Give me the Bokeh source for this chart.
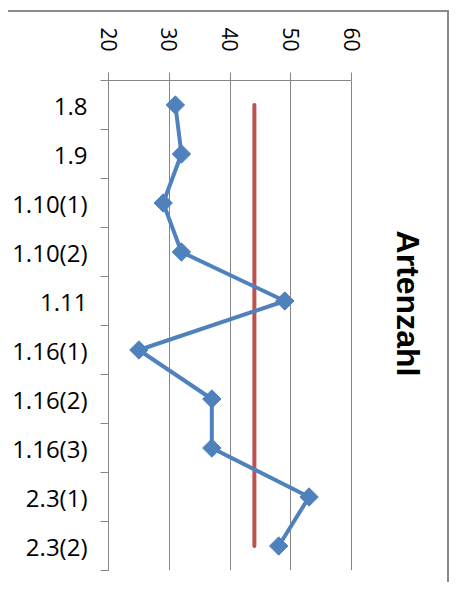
import math
from bokeh.plotting import figure
from bokeh.models import Range1d, LinearAxis, FixedTicker, Grid, Label, ColumnDataSource
from bokeh.embed import file_html
from bokeh.resources import INLINE

categories = ["1.8", "1.9", "1.10(1)", "1.10(2)", "1.11", "1.16(1)",
              "1.16(2)", "1.16(3)", "2.3(1)", "2.3(2)"]
artenzahl = [31, 32, 29, 32, 49, 25, 37, 37, 53, 48]
reference = [44, 44, 44, 44, 44, 44, 44, 44, 44, 44]
value_ticks = [20, 30, 40, 50, 60]
title_text = "Artenzahl"

GRAY = "#868686"
BLUE = "#4F81BD"
RED = "#C0504D"
FONT = "Open Sans"

n = len(categories)
# category slot centres (category i occupies [i, i+1] on the flipped axis)
slot = [i + 0.5 for i in range(n)]
src = ColumnDataSource(data=dict(cat=categories, pos=slot, val=artenzahl, ref=reference))

# the frame extends to the right edge so the title can sit inside it;
# the value axis itself is bounded to 20..60
p = figure(width=441, height=572,
           x_range=Range1d(20, 76.1),
           y_range=Range1d(n, 0),
           x_axis_location=None, y_axis_location=None,
           output_backend="svg", toolbar_location=None,
           min_border_left=100, min_border_top=68,
           min_border_right=0, min_border_bottom=14)
p.center = [r for r in p.center if not isinstance(r, Grid)]
p.outline_line_color = None
p.background_fill_color = "white"
p.border_fill_color = "white"
p.styles = {"border-top": "2px solid #8a8a8a", "border-right": "2px solid #8a8a8a",
            "margin-top": "10px", "margin-left": "8px"}

# value axis on top
xaxis = LinearAxis(ticker=FixedTicker(ticks=value_ticks, minor_ticks=[]),
                   bounds=(value_ticks[0], value_ticks[-1]))
xaxis.major_label_orientation = -math.pi / 2
xaxis.axis_line_color = GRAY
xaxis.major_tick_line_color = GRAY
xaxis.major_tick_out = 8
xaxis.major_tick_in = 0
xaxis.minor_tick_line_color = None
xaxis.major_label_standoff = 21
xaxis.major_label_text_font = FONT
xaxis.major_label_text_font_size = "21px"
xaxis.major_label_text_color = "black"
p.add_layout(xaxis, "above")

# category axis on left (ticks between categories)
yaxis = LinearAxis(ticker=FixedTicker(ticks=slot, minor_ticks=list(range(n + 1))))
yaxis.major_label_overrides = {c: cat for c, cat in zip(slot, categories)}
yaxis.axis_line_color = GRAY
yaxis.major_tick_out = 0
yaxis.major_tick_in = 0
yaxis.major_tick_line_color = None
yaxis.minor_tick_out = 8
yaxis.minor_tick_in = 0
yaxis.minor_tick_line_color = GRAY
yaxis.major_label_standoff = 13
yaxis.major_label_text_font = FONT
yaxis.major_label_text_font_size = "24px"
yaxis.major_label_text_color = "black"
p.add_layout(yaxis, "left")

grid = Grid(dimension=0, ticker=FixedTicker(ticks=value_ticks, minor_ticks=[]),
            grid_line_color=GRAY, grid_line_width=1)
p.add_layout(grid)

p.line(x="ref", y="pos", source=src, line_color=RED, line_width=4, line_cap="round")
p.line(x="val", y="pos", source=src, line_color=BLUE, line_width=4)
p.scatter(x="val", y="pos", source=src, marker="square", angle=math.pi / 4,
          size=13, fill_color=BLUE, line_color=BLUE)

title = Label(x=299, y=267, x_units="screen", y_units="screen", text=title_text,
              angle=-math.pi / 2, text_align="center", text_baseline="middle",
              text_font="Liberation Sans", text_font_style="bold",
              text_font_size="32px", text_color="black")
p.add_layout(title)

open("out.html", "w").write(file_html(p, INLINE))
